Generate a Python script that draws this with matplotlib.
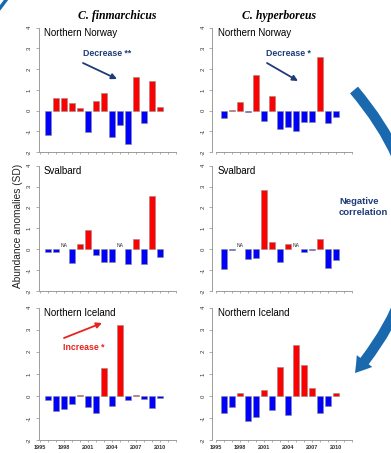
import numpy as np
import matplotlib
matplotlib.use("Agg")
import matplotlib.pyplot as plt
from matplotlib.patches import FancyArrowPatch

W, H = 391, 453
years = list(range(1996, 2011))
tick_years = list(range(1995, 2013))
label_years = [1995, 1998, 2001, 2004, 2007, 2010]

nan = np.nan
fin_norway = [-1.2, 0.63, 0.63, 0.38, 0.12, -1.05, 0.44, 0.86, -1.27, -0.71, -1.61, 1.6, -0.61, 1.44, 0.16]
hyp_norway = [-0.38, 0.02, 0.39, -0.08, 1.74, -0.48, 0.68, -0.87, -0.81, -1.0, -0.53, -0.53, 2.58, -0.61, -0.32]
fin_svalbard = [-0.14, -0.15, nan, -0.67, 0.24, 0.9, -0.29, -0.63, -0.6, nan, -0.73, 0.47, -0.73, 2.56, -0.37]
hyp_svalbard = [-0.94, -0.05, nan, -0.47, -0.4, 2.85, 0.34, -0.63, 0.23, nan, -0.15, -0.03, 0.48, -0.92, -0.52]
fin_iceland = [-0.2, -0.7, -0.6, -0.38, 0.03, -0.5, -0.76, 1.26, -0.47, 3.21, -0.18, 0.03, -0.15, -0.53, -0.09]
hyp_iceland = [-0.76, -0.52, 0.14, -1.12, -0.95, 0.27, -0.62, 1.33, -0.85, 2.32, 1.38, 0.38, -0.77, -0.47, 0.14]

species = ["C. finmarchicus", "C. hyperboreus"]
regions = ["Northern Norway", "Svalbard", "Northern Iceland"]
data = [[fin_norway, hyp_norway], [fin_svalbard, hyp_svalbard], [fin_iceland, hyp_iceland]]

fig = plt.figure(figsize=(W / 100, H / 100), dpi=100)

def fx(x):
    return x / W

def fy(y):
    return 1 - y / H

cols = [(38.5, 177.0, 40.0), (212.0, 352.0, 216.0)]  # x0, x1, pixel of 1995
rows = [(27.7, 152.0), (165.7, 291.0), (307.7, 440.0)]
PXY = 8.0  # pixels per year

axes = {}
for r, (y0, y1) in enumerate(rows):
    for c, (x0, x1, p95) in enumerate(cols):
        ax = fig.add_axes([fx(x0), fy(y1), (x1 - x0) / W, (y1 - y0) / H])
        vals = np.array(data[r][c], dtype=float)
        yrs = np.array(years)
        m = ~np.isnan(vals)
        colors = ["#FF0000" if v >= 0 else "#0000FF" for v in vals[m]]
        ax.bar(yrs[m], vals[m], width=0.86, color=colors, edgecolor="#8a8a8a", linewidth=0.4, zorder=2)
        for yv in yrs[~m]:
            ax.text(yv, 0.17, "NA", fontsize=3.6, ha="center", va="center", color="#333333",
                    family="Liberation Sans")
        xmin = 1995 - (p95 - x0) / PXY
        ax.set_xlim(xmin, xmin + (x1 - x0) / PXY)
        ax.set_ylim(-2, 4)
        for s in ["top", "right"]:
            ax.spines[s].set_visible(False)
        for s in ["left", "bottom"]:
            ax.spines[s].set_color("#8c8c8c")
            ax.spines[s].set_linewidth(0.6)
        ax.spines["bottom"].set_bounds(1995, 2012)
        ax.set_yticks([-2, -1, 0, 1, 2, 3, 4])
        ax.set_yticklabels(["-2", "-1", "0", "1", "2", "3", "4"], rotation=90, va="center",
                           fontsize=4.3, color="#333333", family="Liberation Sans")
        ax.set_xticks(tick_years)
        if r == 2:
            ax.set_xticklabels([str(t) if t in label_years else "" for t in tick_years],
                               fontsize=4.0, fontweight="bold", color="#333333", family="Liberation Sans")
        else:
            ax.set_xticklabels([])
        ax.tick_params(axis="y", length=2.2, width=0.5, color="#8c8c8c", pad=2.5)
        ax.tick_params(axis="x", length=1.5, width=0.5, color="#8c8c8c", pad=2.0)
        ax.patch.set_alpha(0)
        ax.text(0.04, 1 - 5.3 / (y1 - y0), regions[r], transform=ax.transAxes, fontsize=7,
                ha="left", va="center", color="black", family="Liberation Sans")
        axes[(r, c)] = ax

# species titles
fig.text(fx(117), fy(16), species[0], fontsize=8.5, style="italic", fontweight="bold",
         ha="center", va="center", family="Liberation Serif")
fig.text(fx(279), fy(16), species[1], fontsize=8.5, style="italic", fontweight="bold",
         ha="center", va="center", family="Liberation Serif")

# y label
fig.text(fx(18), fy(226), "Abundance anomalies (SD)", rotation=90, fontsize=7.3,
         ha="center", va="center", family="Liberation Sans", color="#222222")

navy = "#1F3C78"

def arrow(p0, p1, color):
    a = FancyArrowPatch((fx(p0[0]), fy(p0[1])), (fx(p1[0]), fy(p1[1])), transform=fig.transFigure,
                        arrowstyle="-|>,head_length=3.2,head_width=1.6", color=color, linewidth=1.3,
                        shrinkA=0, shrinkB=0, mutation_scale=1)
    fig.patches.append(a)

fig.text(fx(107), fy(54), "Decrease **", fontsize=6.3, fontweight="bold", color=navy,
         ha="center", va="center", family="Liberation Sans")
arrow((83, 63), (117, 79), navy)
fig.text(fx(288), fy(53), "Decrease *", fontsize=6.3, fontweight="bold", color=navy,
         ha="center", va="center", family="Liberation Sans")
arrow((267, 63), (298, 81), navy)
fig.text(fx(84), fy(347), "Increase *", fontsize=6.3, fontweight="bold", color="#E8231E",
         ha="center", va="center", family="Liberation Sans")
arrow((64, 338), (102, 323), "#E8231E")

fig.text(fx(339), fy(207), "Negative\ncorrelation", fontsize=6.8, fontweight="bold", color=navy,
         ha="left", va="center", linespacing=1.15, family="Liberation Sans")

# big curved arrow
big = FancyArrowPatch((fx(354), fy(90)), (fx(355), fy(373)), transform=fig.transFigure,
                      connectionstyle="arc3,rad=-0.42",
                      arrowstyle="simple,head_length=11,head_width=14,tail_width=7.5",
                      color="#1A68AE", linewidth=0, mutation_scale=1, shrinkA=0, shrinkB=0)
fig.patches.append(big)

# small arrow fragment at top-left corner
fig.add_artist(plt.Line2D([fx(0), fx(6)], [fy(8), fy(0)], transform=fig.transFigure,
                          color="#1A68AE", linewidth=2.5))

fig.savefig("out.png", dpi=100)
